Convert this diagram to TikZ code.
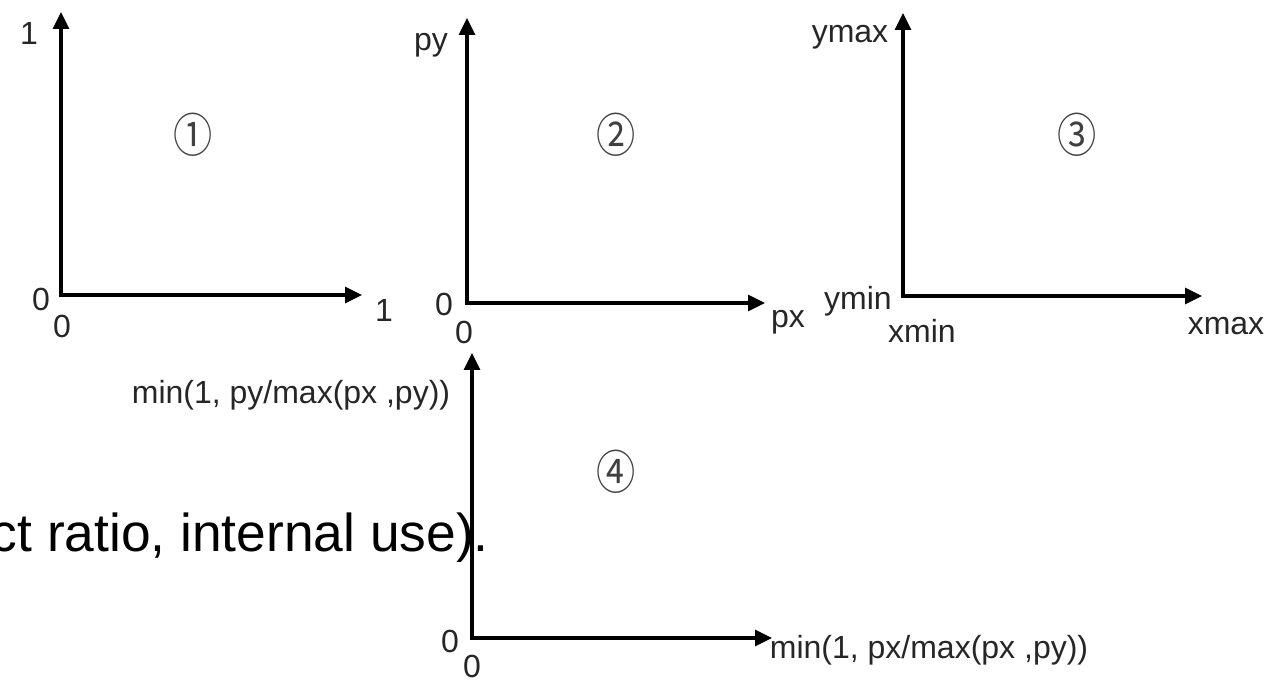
\documentclass[tikz,border=0pt]{standalone}
\usepackage{fontspec}
\setmainfont{Liberation Sans}
\newfontfamily\circfont[FakeStretch=0.84]{Noto Sans CJK KR}
\usetikzlibrary{arrows.meta}
\begin{document}
\begin{tikzpicture}[x=0.75pt,y=-0.75pt,
  axis/.style={line width=2.4pt, {Triangle[length=12.75pt,width=12pt]}-{Triangle[length=12.75pt,width=12pt]}},
  lbl/.style={inner sep=0pt, font=\fontsize{24}{28}\selectfont, text=black!85},
  circ/.style={inner sep=0pt, font=\circfont\fontsize{35}{38}\selectfont, text=black!75},
  big/.style={inner sep=0pt, font=\fontsize{40}{48}\selectfont, anchor=base east, text=black}]
\useasboundingbox (0,0) rectangle (1280,680);
\clip (0,0) rectangle (1280,680);

% panel 1
\coordinate (o1) at (61,295);
\coordinate (y1) at (61,12);
\coordinate (x1) at (362,295);
\draw[axis] (y1) -- (o1) -- (x1);
\node[lbl] (p1top) at (29,33) {1};
\node[lbl] (p1left) at (41,299) {0};
\node[lbl] (p1bot) at (62,326) {0};
\node[lbl] (p1right) at (384,310) {1};
\node[circ] (c1) at (193,135) {①};

% panel 2
\coordinate (o2) at (467,303);
\coordinate (y2) at (467,18);
\coordinate (x2) at (765,303);
\draw[axis] (y2) -- (o2) -- (x2);
\node[lbl] (p2top) at (431,45) {py};
\node[lbl] (p2left) at (444,304) {0};
\node[lbl] (p2bot) at (464,332) {0};
\node[lbl] (p2right) at (788,322) {px};
\node[circ] (c2) at (616,135) {②};

% panel 3
\coordinate (o3) at (903,296);
\coordinate (y3) at (903,13);
\coordinate (x3) at (1202,296);
\draw[axis] (y3) -- (o3) -- (x3);
\node[lbl] (p3top) at (850,37) {ymax};
\node[lbl] (p3left) at (858,301) {ymin};
\node[lbl] (p3bot) at (922,331) {xmin};
\node[lbl] (p3right) at (1226,326) {xmax};
\node[circ] (c3) at (1077,135) {③};

% panel 4
\coordinate (o4) at (472,638);
\coordinate (y4) at (472,353);
\coordinate (x4) at (772,638);
\draw[axis] (y4) -- (o4) -- (x4);
\node[lbl] (p4top) at (291,395) {min(1, py/max(px ,py))};
\node[lbl] (p4left) at (450,641) {0};
\node[lbl] (p4bot) at (472,666) {0};
\node[lbl] (p4right) at (929,650) {min(1, px/max(px ,py))};
\node[circ] (c4) at (616,472) {④};

% overlapping caption text
\node[big] (cap) at (489,551) {ct ratio, internal use).};
\end{tikzpicture}
\end{document}
